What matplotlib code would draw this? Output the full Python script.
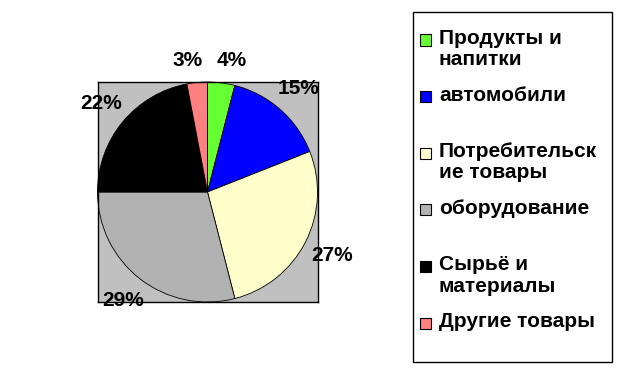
import matplotlib
matplotlib.use("Agg")
import matplotlib.pyplot as plt
import numpy as np
from matplotlib.patches import Rectangle

plt.rcParams['font.family'] = ['Liberation Sans', 'DejaVu Sans']

categories = ["Продукты и\nнапитки", "автомобили", "Потребительск\nие товары",
              "оборудование", "Сырьё и\nматериалы", "Другие товары"]
shares = [4, 15, 27, 29, 22, 3]
colors = ["#66ff33", "#0000ff", "#ffffcc", "#b2b2b2", "#000000", "#ff8080"]

W, H = 620, 384
fig = plt.figure(figsize=(W / 100, H / 100), dpi=100)
fig.patch.set_facecolor("white")

# plot area (gray square) in pixels
ax = fig.add_axes([97 / W, 1 - 302 / H, 221 / W, 220 / H])
ax.set_facecolor("#c0c0c0")
wedges, texts, autotexts = ax.pie(shares, colors=colors, startangle=90, counterclock=False,
                                  radius=1.0, frame=True, autopct="%d%%", pctdistance=1.25,
                                  wedgeprops=dict(edgecolor="black", linewidth=0.6),
                                  textprops=dict(fontsize=15, fontweight="bold", color="black"))
# push labels out a bit more on the sides than at the top (like excel does)
for w, t in zip(wedges, autotexts):
    ang = np.deg2rad((w.theta1 + w.theta2) / 2)
    d = 1.19 + 0.09 * abs(np.cos(ang))
    x, y = d * np.cos(ang), d * np.sin(ang)
    if abs(np.sin(ang)) > 0.95:
        x += 0.07 * np.sign(np.cos(ang))  # keep the two small top labels apart
    t.set_position((x, y))
    t.set_clip_on(False)
ax.set_xlim(-1.0, 1.0)
ax.set_ylim(-1.0, 1.0)
ax.set_xticks([])
ax.set_yticks([])
for s in ax.spines.values():
    s.set_color("black")
    s.set_linewidth(1)

# legend box
fig.patches.append(Rectangle((413 / W, 1 - 362 / H), 199 / W, 350 / H, transform=fig.transFigure,
                             facecolor="white", edgecolor="black", linewidth=1))
slot = 56.6
for i, (lab, c) in enumerate(zip(categories, colors)):
    yc = 40 + slot * i
    fig.patches.append(Rectangle((420 / W, 1 - (yc + 5.5) / H), 11 / W, 11 / H,
                                 transform=fig.transFigure, facecolor=c,
                                 edgecolor="black", linewidth=0.8))
    fig.text(439 / W, 1 - (yc - 11) / H, lab, fontsize=15, fontweight="bold",
             va="top", ha="left", linespacing=1.15)

fig.savefig("out.png", dpi=100)
